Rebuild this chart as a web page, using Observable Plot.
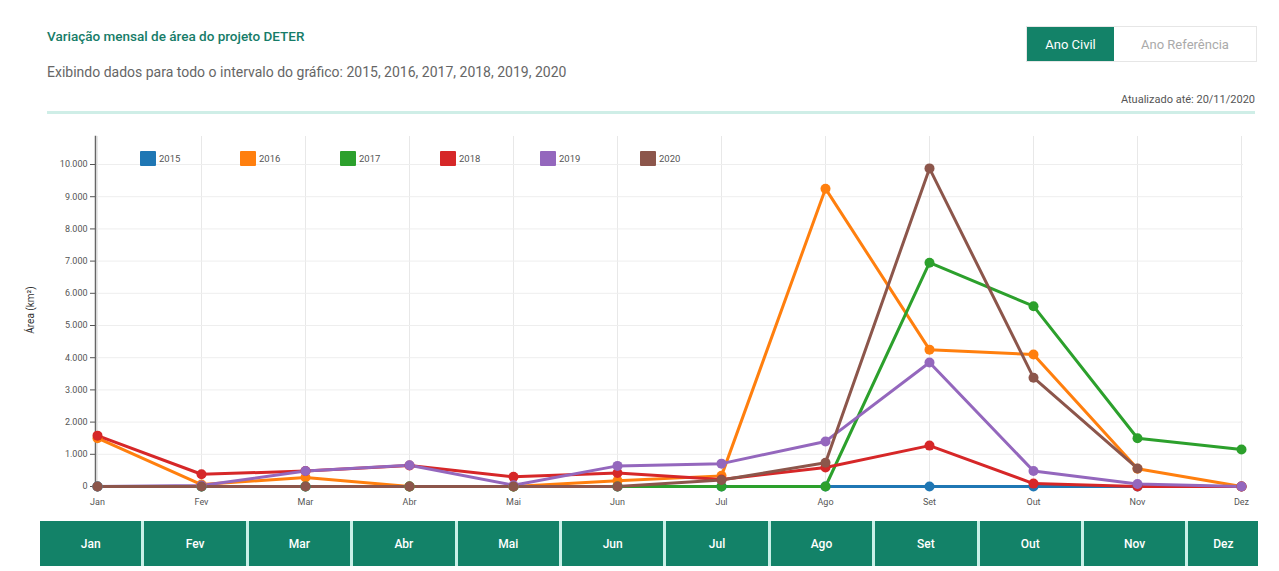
<!DOCTYPE html>
<html>
<head>
<meta charset="utf-8">
<script src="https://cdn.jsdelivr.net/npm/d3@7"></script>
<script src="https://cdn.jsdelivr.net/npm/@observablehq/plot@0.6"></script>
<style>
  html, body { margin: 0; padding: 0; background: #fff; font-family: Roboto, "Noto Sans", sans-serif; }
  #page { position: relative; width: 1279px; height: 571px; overflow: hidden; }
  .abs { position: absolute; }
  #title { left: 47px; top: 28px; font-size: 13.5px; font-weight: 500; color: #167c68; }
  #subtitle { left: 47px; top: 64px; font-size: 14px; color: #666; }
  #hr { left: 47px; top: 111px; width: 1208px; height: 3px; background: #cfeee7; }
  #updated { right: 24px; top: 93px; font-size: 11px; color: #555; }
  #toggle { left: 1026px; top: 26px; display: flex; height: 36px; border: 1px solid #e6e6e6; box-sizing: border-box; }
  #toggle div { display: flex; align-items: center; justify-content: center; font-size: 13px; }
  #t1 { width: 87px; background: #138268; color: #fff; }
  #t2 { width: 142px; background: #fff; color: #aaa; }
  #legend { left: 140px; top: 151px; display: flex; }
  .li { display: flex; align-items: center; width: 100px; font-size: 9.5px; color: #555; }
  .sw { width: 16px; height: 15px; margin-right: 3px; border-radius: 1px; }
  #chart { left: 0; top: 130px; }
  #ylab { left: 30px; top: 310px; transform: translate(-50%, -50%) rotate(-90deg); font-size: 10px; color: #333; white-space: nowrap; }
  #buttons { left: 40px; top: 521px; display: flex; }
  .btn { height: 45px; background: #138268; color: #fff; display: flex; align-items: center; justify-content: center; font-size: 12px; font-weight: 500; border-right: 3px solid #c9f0e8; box-sizing: border-box; }
</style>
</head>
<body>
<div id="page">
  <div id="title" class="abs">Variação mensal de área do projeto DETER</div>
  <div id="subtitle" class="abs"></div>
  <div id="hr" class="abs"></div>
  <div id="updated" class="abs">Atualizado até: 20/11/2020</div>
  <div id="toggle" class="abs"><div id="t1">Ano Civil</div><div id="t2">Ano Referência</div></div>
  <div id="chart" class="abs"></div>
  <div id="ylab" class="abs">Área (km²)</div>
  <div id="legend" class="abs"></div>
  <div id="buttons" class="abs"></div>
</div>
<script>
const months = ["Jan","Fev","Mar","Abr","Mai","Jun","Jul","Ago","Set","Out","Nov","Dez"];
const years = ["2015","2016","2017","2018","2019","2020"];
const colors = ["#1f77b4","#ff7f0e","#2ca02c","#d62728","#9467bd","#8c564b"];
const v2015 = [0,0,0,0,0,0,0,0,0,0,0,0];
const v2016 = [1500,60,280,0,0,180,330,9250,4250,4100,550,0];
const v2017 = [0,0,0,0,0,0,0,0,6950,5600,1500,1150];
const v2018 = [1580,380,480,650,300,420,220,590,1270,90,0,0];
const v2019 = [0,30,480,660,40,640,710,1400,3850,480,80,0];
const v2020 = [0,0,0,0,0,0,200,740,9880,3380,560,null];
const yTicks = [0,1000,2000,3000,4000,5000,6000,7000,8000,9000,10000];

const seriesValues = [v2015, v2016, v2017, v2018, v2019, v2020];
const data = [];
years.forEach((yr, i) => {
  seriesValues[i].forEach((v, j) => {
    if (v !== null) data.push({year: yr, month: months[j], value: v});
  });
});

document.getElementById("subtitle").textContent =
  "Exibindo dados para todo o intervalo do gráfico: " + years.join(", ");

const leg = document.getElementById("legend");
years.forEach((yr, i) => {
  const d = document.createElement("div"); d.className = "li";
  d.innerHTML = `<span class="sw" style="background:${colors[i]}"></span>${yr}`;
  leg.appendChild(d);
});

const btns = document.getElementById("buttons");
months.forEach((m, i) => {
  const b = document.createElement("div"); b.className = "btn";
  b.style.width = (i === 11 ? 70 : 104.4) + "px";
  if (i === 11) b.style.borderRight = "none";
  b.textContent = m;
  btns.appendChild(b);
});

const fmt = d3.formatLocale({decimal: ",", thousands: ".", grouping: [3], currency: ["R$", ""]}).format(",");

const chart = Plot.plot({
  width: 1279,
  height: 385,
  marginLeft: 95,
  marginRight: 36,
  marginTop: 6,
  marginBottom: 29,
  style: {fontFamily: "Roboto, sans-serif", fontSize: "9px", color: "#555", background: "transparent"},
  x: {type: "point", domain: months, padding: 0, label: null},
  y: {domain: [0, 10870], label: null},
  color: {domain: years, range: colors},
  marks: [
    Plot.gridX(months, {stroke: "#e8e8e8", strokeOpacity: 1}),
    Plot.gridY(yTicks, {stroke: "#eeeeee", strokeOpacity: 1}),
    Plot.axisY({ticks: yTicks, tickFormat: fmt, tickSize: 5, tickPadding: 3, label: null, stroke: "#555"}),
    Plot.axisX({tickSize: 0, tickPadding: 12, label: null}),
    Plot.frame({anchor: "left", stroke: "#666", strokeWidth: 1.5}),
    Plot.line(data, {x: "month", y: "value", z: "year", stroke: "year", strokeWidth: 3}),
    Plot.dot(data, {x: "month", y: "value", fill: "year", r: 5})
  ]
});
document.getElementById("chart").appendChild(chart);
</script>
</body>
</html>
